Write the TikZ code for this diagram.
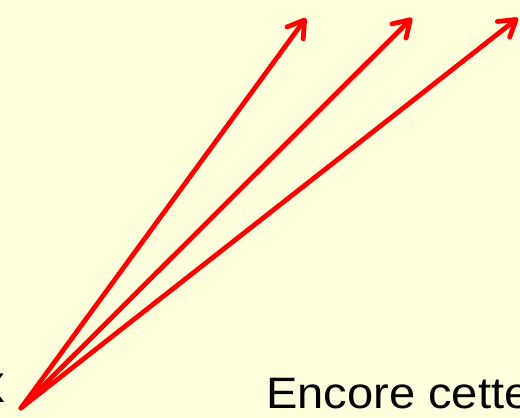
\documentclass[tikz,border=0pt]{standalone}
\usepackage{fontspec}
\setmainfont{Liberation Sans}
\newfontfamily\etire[FakeStretch=1.07]{Liberation Sans}
\usetikzlibrary{arrows.meta}
\definecolor{fondjaune}{RGB}{255,255,221}

\begin{document}
\begin{tikzpicture}[x=1pt, y=-1pt,
    vecteur/.style={draw=red, line width=4.8pt, line cap=round,
      -{Straight Barb[length=16pt, width=20pt, line cap=round, line join=round]}},
    texte/.style={inner sep=0pt, text=black}]
    % Frame: 520 x 418, origin top left
    \fill[fondjaune] (0,0) rectangle (520,418);
    \useasboundingbox (0,0) rectangle (520,418);
    \clip (0,0) rectangle (520,418);

    % Common origin and the three tips
    \coordinate (origine) at (21,408);
    \coordinate (pointeA) at (306,18);
    \coordinate (pointeB) at (412,18);
    \coordinate (pointeC) at (518,18);

    % Vectors
    \foreach \p in {pointeA, pointeB, pointeC}
        \draw[vecteur] (origine) -- (\p);

    % Texts (cut by the frame)
    \node[texte, anchor=base east, font=\etire\fontsize{54}{60}\selectfont] (lettre) at (5.5,402) {x};
    \node[texte, anchor=base west, font=\etire\fontsize{44}{50}\selectfont] (encore) at (266,408) {Encore cette};
\end{tikzpicture}
\end{document}
